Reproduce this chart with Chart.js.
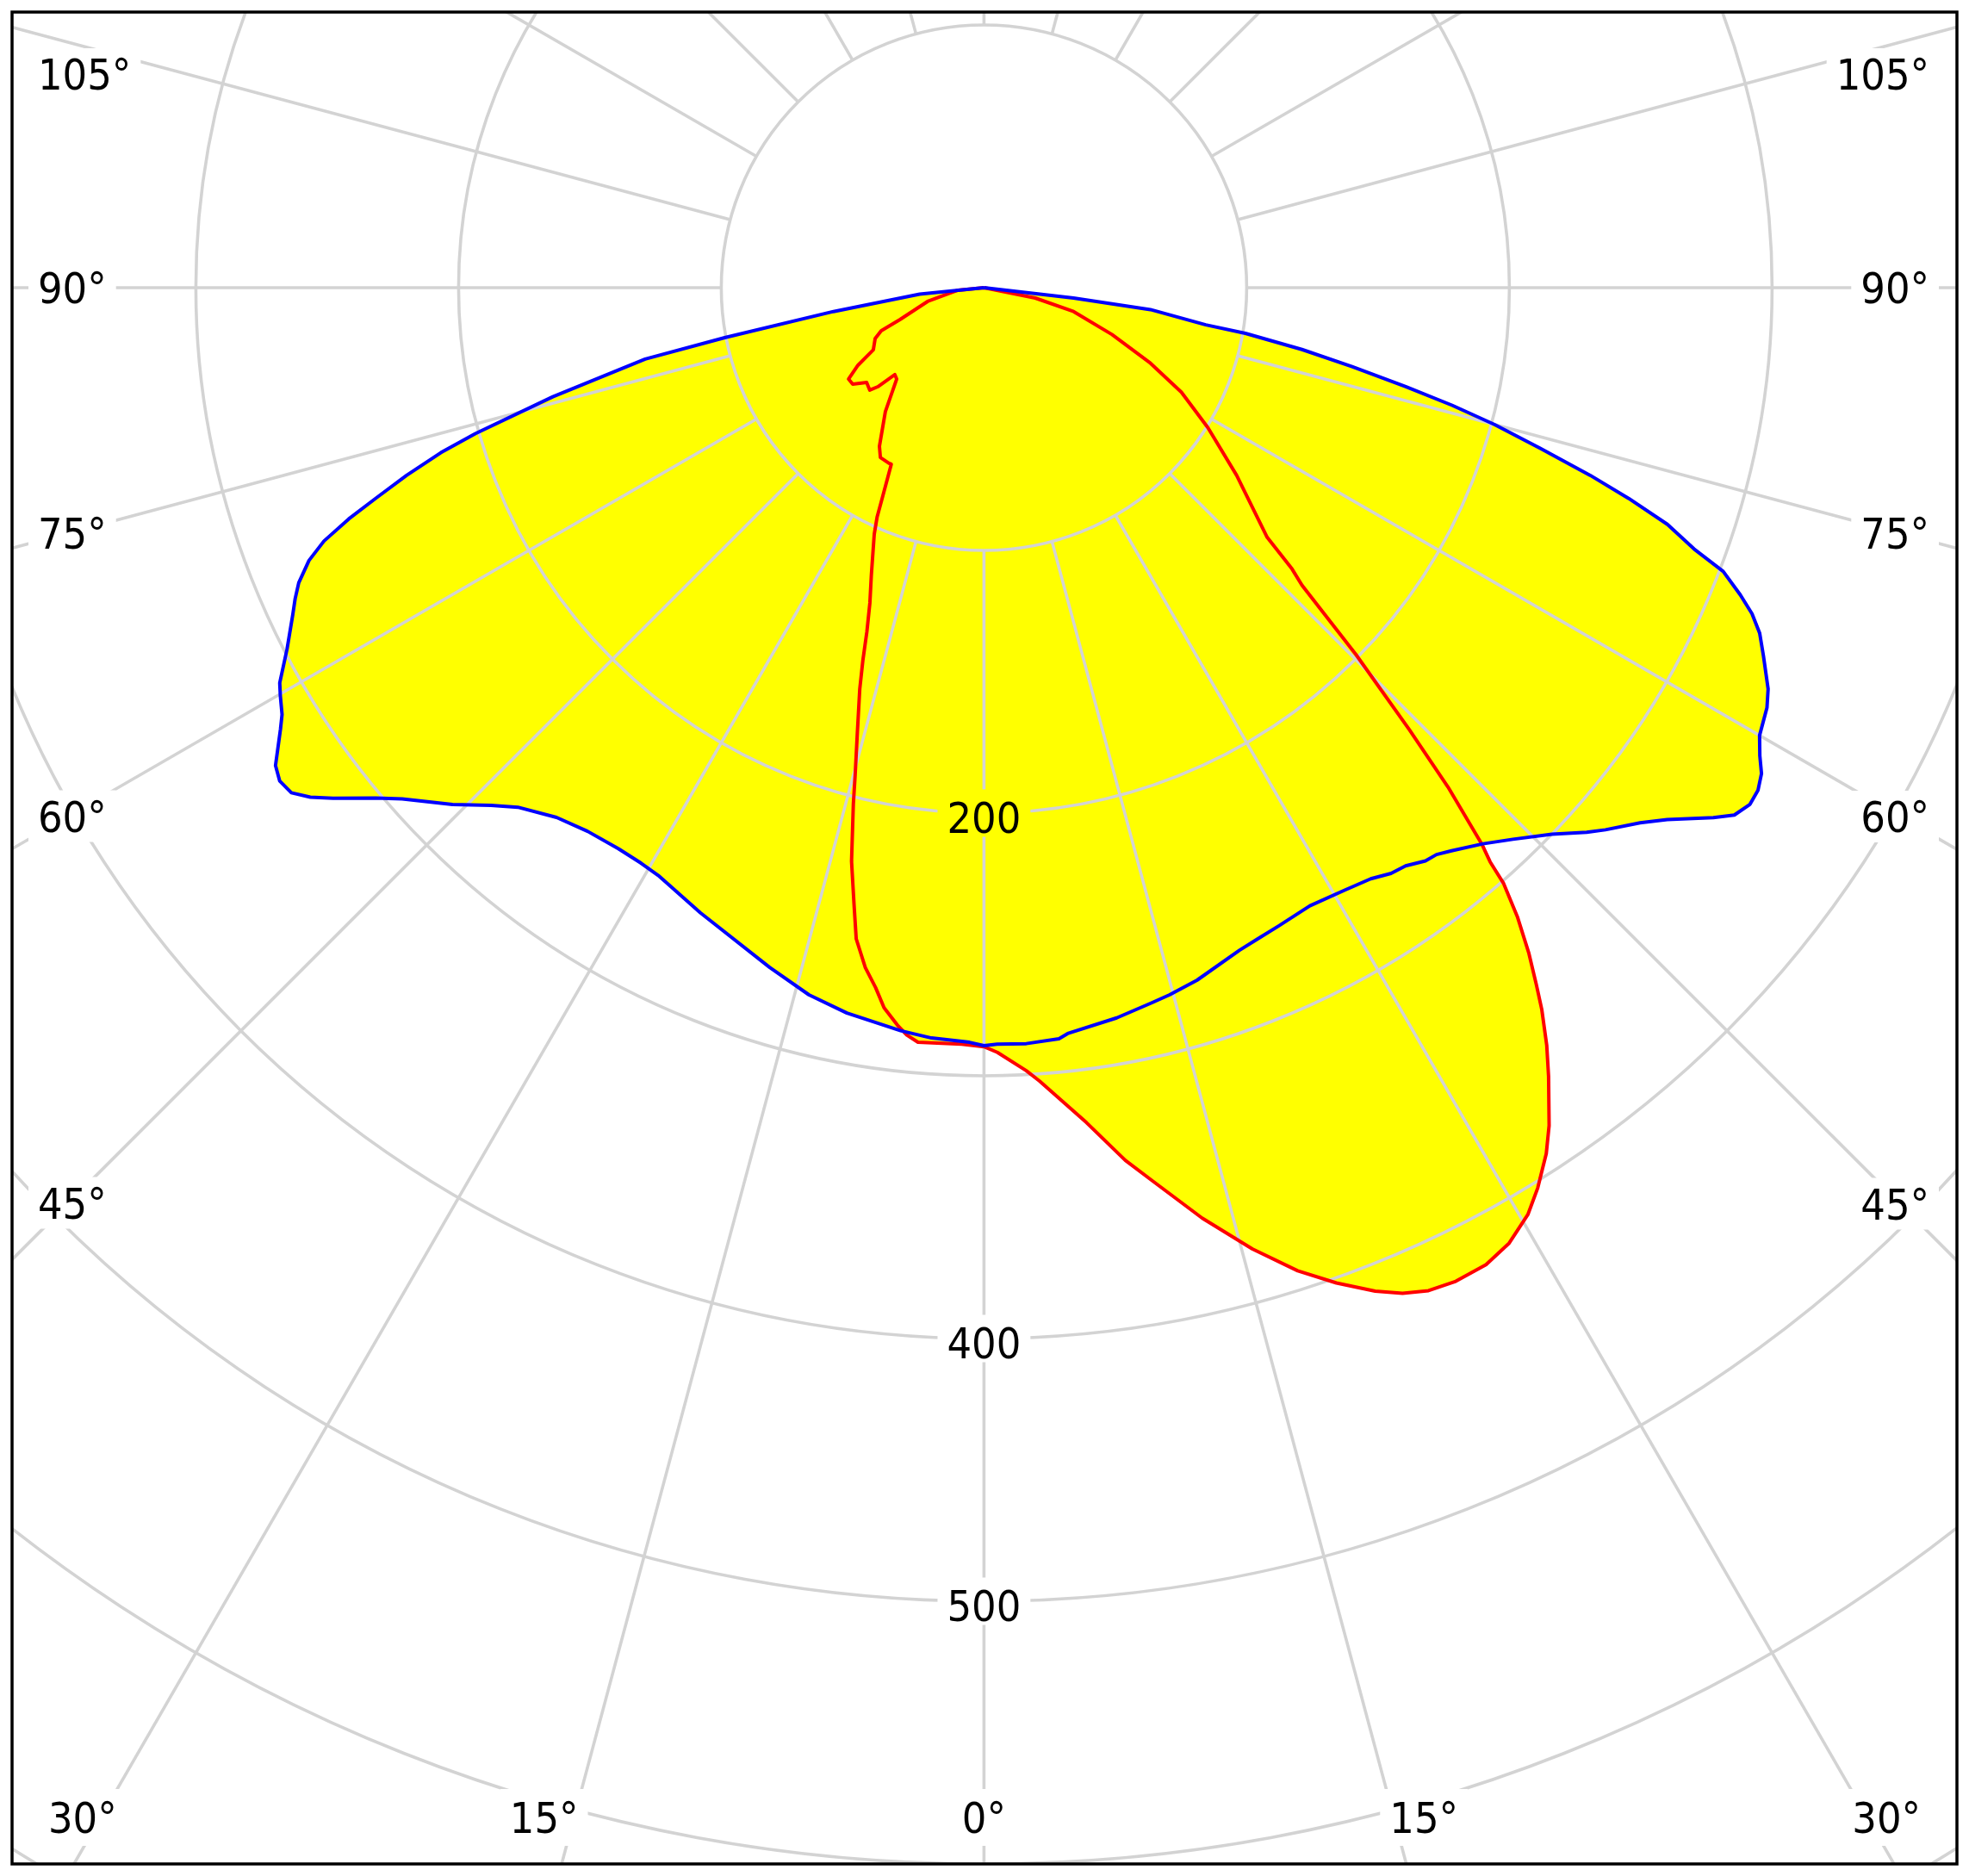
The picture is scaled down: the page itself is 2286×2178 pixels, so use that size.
<!DOCTYPE html>
<html>
<head>
<meta charset="utf-8">
<title>Light distribution curve</title>
<script src="https://cdn.jsdelivr.net/npm/chart.js@4/dist/chart.umd.min.js"></script>
<style>
  html, body { margin: 0; padding: 0; background: #fff; }
  canvas { display: block; }
</style>
</head>
<body>
<canvas id="polarChart" width="2286" height="2178"></canvas>
<script>
// C0-C180 plane (blue): angle from nadir in degrees, left half negative
const blueAngles = [
  -90, -84.3, -81.0, -79.1, -78.1, -75.8, -74.0, -73.1, -72.0, -70.9,
  -70.0, -69.0, -68.0, -66.7, -65.7, -64.7, -62.6, -60.7, -59.9, -58.7,
  -57.9, -56.0, -55.0, -53.9, -52.9, -51.9, -50.0, -48.7, -45.8, -43.6,
  -41.9, -38.9, -36.1, -33.1, -30.8, -29.0, -24.4, -17.5, -13.9, -10.7,
  -6.4, -4.0, -1.1, 0, 1.0, 3.2, 5.7, 6.4, 10.3, 13.2,
  14.7, 17.1, 21.1, 22.8, 24.8, 27.8, 30.9, 33.2, 34.8, 36.1,
  37.6, 38.6, 39.7, 41.9, 43.8, 46.1, 47.9, 48.9, 50.8, 52.1,
  54.0, 54.9, 56.0, 57.0, 58.0, 58.9, 60.0, 61.8, 62.9, 64.7,
  66.0, 67.0, 67.9, 69.0, 69.8, 70.9, 71.9, 72.8, 73.9, 75.0,
  75.9, 76.8, 77.9, 79.0, 80.1, 80.5, 82.5, 83.4, 90
];
// cd/klm
const blueValues = [
  0, 24.6, 58.0, 100.5, 131.8, 169.3, 201.3, 216.1, 231.1, 245.0,
  257.3, 269.1, 277.1, 284.0, 287.7, 291.0, 298.8, 307.4, 309.6, 312.7,
  316.1, 325.3, 327.3, 326.3, 321.5, 314.9, 302.2, 294.8, 282.2, 272.1,
  265.7, 259.1, 256.1, 254.9, 255.0, 255.8, 261.3, 271.3, 277.3, 281.0,
  284.6, 286.3, 287.3, 288.5, 288.0, 288.2, 287.3, 285.7, 282.5, 279.6,
  278.3, 275.8, 270.3, 268.9, 267.6, 266.0, 267.3, 268.9, 271.5, 272.4,
  275.4, 276.1, 278.6, 284.4, 290.9, 300.0, 309.2, 313.9, 322.3, 329.6,
  343.2, 349.1, 351.7, 351.3, 349.0, 344.9, 340.9, 338.2, 335.3, 328.2,
  323.2, 317.6, 310.7, 301.4, 288.0, 275.3, 258.2, 241.6, 220.4, 201.1,
  183.7, 164.9, 143.3, 123.3, 101.0, 85.6, 63.9, 34.3, 0
];

// C90-C270 plane (red)
const redAngles = [
  -90, -84.4, -76.3, -69.2, -67.3, -65.0, -60.7, -58.4, -56.0, -53.7,
  -51.1, -48.1, -47.0, -45.7, -43.7, -38.5, -33.4, -31.4, -28.4, -27.7,
  -25.9, -25.0, -24.0, -21.4, -19.9, -18.8, -18.0, -17.2, -15.9, -14.8,
  -14.2, -13.0, -11.9, -11.1, -9.9, -8.8, -7.9, -6.7, -5.9, -5.0,
  -1.7, 0, 1.0, 3.1, 4.0, 7.0, 9.2, 10.7, 13.2, 15.6,
  17.7, 19.5, 21.3, 22.6, 23.9, 25.4, 27.2, 28.8, 30.4, 31.6,
  33.0, 34.0, 35.6, 36.6, 37.7, 38.4, 39.3, 40.3, 41.1, 41.4,
  41.8, 42.9, 43.9, 45.4, 46.9, 47.6, 48.6, 53.4, 58.0, 62.1,
  65.6, 69.9, 75.1, 78.6, 90
];
const redValues = [
  0, 10.0, 22.1, 34.2, 42.4, 45.7, 48.3, 56.3, 62.2, 62.0,
  57.4, 58.4, 55.3, 47.4, 48.1, 60.3, 72.3, 75.7, 76.0, 75.9,
  88.2, 96.2, 102.7, 117.5, 127.6, 138.3, 149.2, 159.9, 175.9, 192.0,
  202.7, 224.1, 239.9, 252.6, 262.7, 269.6, 276.7, 282.6, 286.0, 288.3,
  288.1, 288.9, 291.1, 298.5, 302.7, 320.2, 336.5, 346.1, 363.8, 379.9,
  392.8, 401.9, 410.0, 414.6, 417.6, 418.7, 418.1, 415.0, 409.1, 402.3,
  393.0, 384.7, 369.2, 359.3, 347.2, 338.5, 327.5, 313.9, 300.8, 291.3,
  284.6, 259.5, 233.5, 198.8, 165.8, 158.8, 143.7, 119.8, 100.5, 85.0,
  69.6, 51.9, 35.3, 19.9, 0
];

const ringValues = [100, 200, 300, 400, 500, 600, 700];
const ringLabels = [200, 400, 500];
const angleLabels = [0, 15, 30, 45, 60, 75, 90, 105];
const spokeStep = 15;

// page geometry in pixels
const PAD = 14;
const CENTER_X = 1142.4, CENTER_Y = 334;
const PX_PER_UNIT = 3.05;
const CANVAS_W = 2286, CANVAS_H = 2178;

const GRID_COLOR = '#d3d3d3';
const FONT_SIZE = 50;
const FONT = FONT_SIZE + "px 'DejaVu Sans Condensed', 'DejaVu Sans', sans-serif";

function toXY(angles, values) {
  return angles.map((a, i) => {
    const t = a * Math.PI / 180;
    return { x: values[i] * Math.sin(t), y: -values[i] * Math.cos(t) };
  });
}

// where each label goes; the grid gets a gap there
function layoutLabels(ctx, area, cx, cy, pt) {
  const out = [];
  ringLabels.forEach(v => {
    const [lx, ly] = pt(0, v);
    const text = String(v);
    const w = ctx.measureText(text).width;
    out.push({ text, left: lx - w / 2, cy: ly, w, boxH: 55, shift: 5 });
  });
  angleLabels.forEach(a => {
    [-1, 1].forEach(side => {
      if (a === 0 && side < 0) return;
      const text = a + '°';
      const w = ctx.measureText(text).width;
      const t = a * Math.PI / 180;
      const sin = Math.sin(t), cos = Math.cos(t);
      const toSide = sin > 1e-9 ? (side > 0 ? area.right - cx : cx - area.left) / sin : Infinity;
      const toBottom = cos > 1e-9 ? (area.bottom - cy) / cos : Infinity;
      if (toBottom < toSide) {
        const ly = area.bottom - 54;
        const lx = cx + side * (ly - cy) * sin / cos;
        let left;
        if (a === 0) left = lx - w / 2;
        else if (side < 0) left = Math.max(lx + 5 - w, area.left + 42);
        else left = Math.min(lx - 5, area.right - 42 - w);
        out.push({ text, left, cy: ly, w, boxH: 66, shift: 0 });
      } else {
        const d = (side > 0 ? area.right - cx : cx - area.left) - 66;
        const ly = Math.max(cy + d * cos / sin, area.top + 72);
        const left = side < 0 ? area.left + 30 : area.right - 32 - w;
        out.push({ text, left, cy: ly, w, boxH: 60, shift: 0 });
      }
    });
  });
  return out;
}

const polarGrid = {
  id: 'polarGrid',
  beforeDatasetsDraw(chart) {
    const { ctx, chartArea: area, scales: { x, y } } = chart;
    const cx = x.getPixelForValue(0);
    const cy = y.getPixelForValue(0);
    const pt = (deg, r) => {
      const t = deg * Math.PI / 180;
      return [x.getPixelForValue(r * Math.sin(t)), y.getPixelForValue(-r * Math.cos(t))];
    };

    ctx.save();
    ctx.font = FONT;
    const labels = layoutLabels(ctx, area, cx, cy, pt);

    // clip to the frame minus the label boxes
    ctx.beginPath();
    ctx.rect(area.left, area.top, area.width, area.height);
    labels.forEach(l => ctx.rect(l.left - 11, l.cy - l.boxH / 2, l.w + 22, l.boxH));
    ctx.clip('evenodd');

    ctx.strokeStyle = GRID_COLOR;
    ctx.lineWidth = 3.6;
    ringValues.forEach(v => {
      const r = x.getPixelForValue(v) - cx;
      ctx.beginPath();
      ctx.arc(cx, cy, r, 0, Math.PI * 2);
      ctx.stroke();
    });
    for (let a = 0; a < 360; a += spokeStep) {
      const [x0, y0] = pt(a, ringValues[0]);
      const [x1, y1] = pt(a, 1000);
      ctx.beginPath();
      ctx.moveTo(x0, y0);
      ctx.lineTo(x1, y1);
      ctx.stroke();
    }
    ctx.restore();

    ctx.save();
    ctx.font = FONT;
    ctx.textAlign = 'left';
    ctx.textBaseline = 'alphabetic';
    ctx.fillStyle = '#000';
    labels.forEach(l => ctx.fillText(l.text, l.left, l.cy + l.shift + FONT_SIZE * 0.3645));
    ctx.restore();
  },
  afterDraw(chart) {
    const { ctx, chartArea: area } = chart;
    ctx.save();
    ctx.strokeStyle = '#000';
    ctx.lineWidth = 3.5;
    ctx.strokeRect(area.left, area.top, area.width, area.height);
    ctx.restore();
  }
};

const areaW = CANVAS_W - 2 * PAD, areaH = CANVAS_H - 2 * PAD;
const xMin = -(CENTER_X - PAD) / PX_PER_UNIT;
const xMax = xMin + areaW / PX_PER_UNIT;
const yMax = (CENTER_Y - PAD) / PX_PER_UNIT;
const yMin = yMax - areaH / PX_PER_UNIT;

const lineStyle = {
  showLine: true,
  fill: 'shape',
  backgroundColor: '#ffff00',
  borderWidth: 4,
  borderJoinStyle: 'round',
  pointRadius: 0,
  pointHoverRadius: 0,
  tension: 0
};

new Chart(document.getElementById('polarChart'), {
  type: 'scatter',
  data: {
    datasets: [
      Object.assign({ label: 'C0-C180', data: toXY(blueAngles, blueValues), borderColor: '#0000ff' }, lineStyle),
      Object.assign({ label: 'C90-C270', data: toXY(redAngles, redValues), borderColor: '#ff0000' }, lineStyle)
    ]
  },
  options: {
    responsive: false,
    animation: false,
    devicePixelRatio: 1,
    events: [],
    layout: { padding: PAD },
    scales: {
      x: { type: 'linear', display: false, min: xMin, max: xMax },
      y: { type: 'linear', display: false, min: yMin, max: yMax }
    },
    plugins: {
      legend: { display: false },
      tooltip: { enabled: false },
      filler: { drawTime: 'beforeDatasetsDraw' }
    }
  },
  plugins: [polarGrid]
});
</script>
</body>
</html>
